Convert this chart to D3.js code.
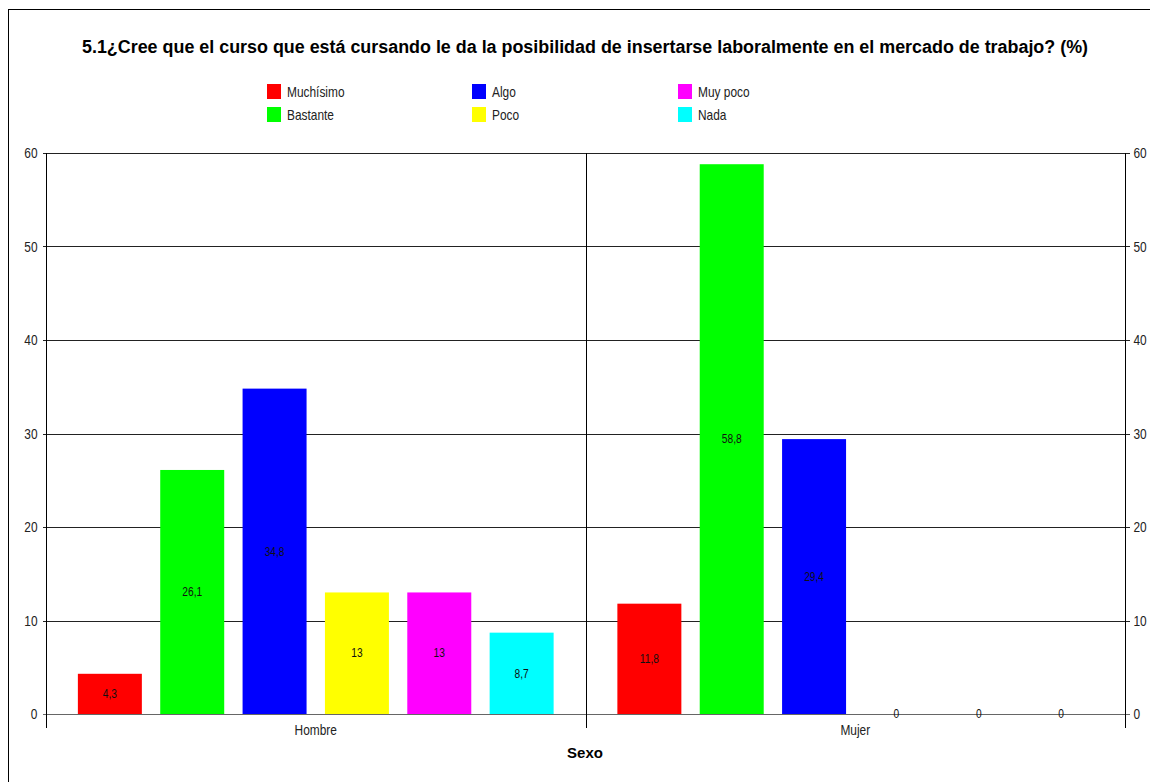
<!DOCTYPE html>
<html>
<head>
<meta charset="utf-8">
<script src="https://cdn.jsdelivr.net/npm/d3@7/dist/d3.min.js"></script>
<style>
  html, body { margin: 0; padding: 0; background: #fff; }
  svg { display: block; }
  text { font-family: "Liberation Sans", Arial, sans-serif; }
</style>
</head>
<body>
<svg id="chart" width="1150" height="782"></svg>
<script>
// Survey data: share of respondents (%) by sex and answer
const groups = ["Hombre", "Mujer"];
const answers = ["Muchísimo", "Bastante", "Algo", "Poco", "Muy poco", "Nada"];
const colors = ["#ff0000", "#00ff00", "#0000ff", "#ffff00", "#ff00ff", "#00ffff"];
const hombreValues = [4.3, 26.1, 34.8, 13, 13, 8.7];
const mujerValues = [11.8, 58.8, 29.4, 0, 0, 0];
const yTicks = [0, 10, 20, 30, 40, 50, 60];

const seriesByGroup = { Hombre: hombreValues, Mujer: mujerValues };

const svg = d3.select("#chart");
const W = 1150, H = 782;
const plot = { left: 46, right: 1125, top: 153, bottom: 714 };
const SQ = 0.85; // horizontal squeeze for the narrow label face

// place a text at (x, y) with a narrowed glyph width
function narrow(sel, x, y) {
  sel.attr("x", 0).attr("y", 0)
    .attr("transform", (d, i, n) => {
      const xv = typeof x === "function" ? x(d, i, n) : x;
      const yv = typeof y === "function" ? y(d, i, n) : y;
      return `translate(${xv},${yv}) scale(${SQ},1)`;
    });
  return sel;
}

// outer frame
svg.append("rect")
  .attr("x", 8.5).attr("y", 9.5)
  .attr("width", W + 10).attr("height", H + 10)
  .attr("fill", "none").attr("stroke", "#000").attr("stroke-width", 1);

// title
svg.append("text")
  .attr("x", 585).attr("y", 53)
  .attr("text-anchor", "middle")
  .attr("font-weight", "bold")
  .attr("font-size", 18)
  .attr("textLength", 1006)
  .attr("lengthAdjust", "spacingAndGlyphs")
  .attr("fill", "#000")
  .text("5.1¿Cree que el curso que está cursando le da la posibilidad de insertarse laboralmente en el mercado de trabajo? (%)");

// scales
const x0 = d3.scaleBand().domain(groups).range([plot.left, plot.right]).padding(0);
const x1 = d3.scaleBand().domain(answers).range([0, x0.bandwidth()])
  .paddingInner(0.223).paddingOuter(0.387);
const y = d3.scaleLinear().domain([0, 60]).range([plot.bottom, plot.top]);

// horizontal gridlines
svg.append("g").selectAll("line").data(yTicks).join("line")
  .attr("x1", plot.left - 3).attr("x2", plot.right + 5)
  .attr("y1", d => Math.round(y(d)) + 0.5).attr("y2", d => Math.round(y(d)) + 0.5)
  .attr("stroke", d => d === 0 ? "#666" : "#222")
  .attr("stroke-width", 1);

// left / right axes
const leftAxis = d3.axisLeft(y).tickValues(yTicks).tickSize(0).tickPadding(9);
const rightAxis = d3.axisRight(y).tickValues(yTicks).tickSize(0).tickPadding(8);
const gl = svg.append("g").attr("transform", `translate(${plot.left + 0.5},0)`).call(leftAxis);
const gr = svg.append("g").attr("transform", `translate(${plot.right + 0.5},0)`).call(rightAxis);
gl.select(".domain").remove();
gr.select(".domain").remove();
gl.selectAll(".tick text").attr("font-size", 14).attr("fill", "#222")
  .attr("dy", "0.34em").call(narrow, -9, 0);
gr.selectAll(".tick text").attr("font-size", 14).attr("fill", "#222")
  .attr("dy", "0.34em").call(narrow, 8, 0);

// vertical axis lines
[plot.left, x0("Mujer"), plot.right].forEach(xv => {
  svg.append("line")
    .attr("x1", Math.round(xv) + 0.5).attr("x2", Math.round(xv) + 0.5)
    .attr("y1", plot.top).attr("y2", plot.bottom + 14)
    .attr("stroke", "#000").attr("stroke-width", 1);
});

// bars
const gGroups = svg.append("g").selectAll("g").data(groups).join("g")
  .attr("transform", d => `translate(${x0(d)},0)`);

gGroups.selectAll("rect")
  .data(g => answers.map((a, i) => ({ a, i, v: seriesByGroup[g][i] })))
  .join("rect")
  .attr("x", d => x1(d.a))
  .attr("width", x1.bandwidth())
  .attr("y", d => y(d.v))
  .attr("height", d => y(0) - y(d.v))
  .attr("fill", d => colors[d.i]);

// value labels at mid height of each bar
gGroups.selectAll("text.val")
  .data(g => answers.map((a, i) => ({ a, i, v: seriesByGroup[g][i] })))
  .join("text")
  .attr("class", "val")
  .attr("dy", "0.35em")
  .attr("text-anchor", "middle")
  .attr("font-size", 12)
  .attr("fill", "#111")
  .text(d => String(d.v).replace(".", ","))
  .call(narrow, d => x1(d.a) + x1.bandwidth() / 2, d => (y(d.v) + y(0)) / 2);

// category labels
svg.append("g").selectAll("text").data(groups).join("text")
  .attr("text-anchor", "middle")
  .attr("font-size", 14)
  .attr("fill", "#222")
  .text(d => d)
  .call(narrow, d => x0(d) + x0.bandwidth() / 2, 735);

// axis title
svg.append("text")
  .attr("x", 585).attr("y", 758)
  .attr("text-anchor", "middle")
  .attr("font-weight", "bold")
  .attr("font-size", 15)
  .attr("fill", "#000")
  .text("Sexo");

// legend: three columns, two rows
const legendCols = [267, 472, 678];
const legend = svg.append("g").selectAll("g").data(answers).join("g")
  .attr("transform", (d, i) => `translate(${legendCols[Math.floor(i / 2)]},${84 + (i % 2) * 23})`);
legend.append("rect")
  .attr("width", 14).attr("height", 15)
  .attr("fill", (d, i) => colors[i]);
legend.append("text")
  .attr("dy", "0.35em")
  .attr("font-size", 14)
  .attr("fill", "#222")
  .text(d => d)
  .call(narrow, 20, 8);
</script>
</body>
</html>
